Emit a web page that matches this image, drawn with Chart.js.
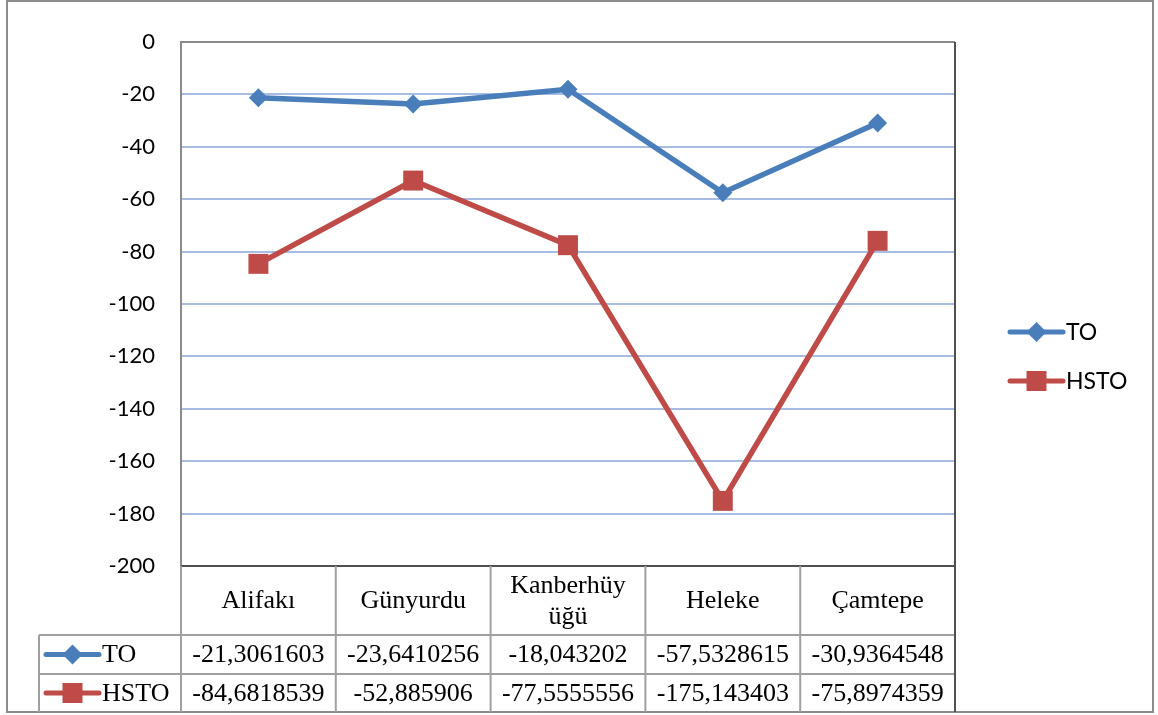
<!DOCTYPE html>
<html>
<head>
<meta charset="utf-8">
<script src="https://cdn.jsdelivr.net/npm/chart.js@4"></script>
<style>
  html, body { margin: 0; padding: 0; background: #fff; }
  canvas { display: block; }
</style>
</head>
<body>
<canvas id="chart" width="1158" height="715"></canvas>
<script>
const categories = [['Alifakı'], ['Günyurdu'], ['Kanberhüy', 'üğü'], ['Heleke'], ['Çamtepe']];
const seriesNames = ['TO', 'HSTO'];
const toValues = [-21.3061603, -23.6410256, -18.043202, -57.5328615, -30.9364548];
const hstoValues = [-84.6818539, -52.885906, -77.5555556, -175.143403, -75.8974359];
const yMin = -200;
const yMax = 0;
const yStep = 20;

const blue = '#4A7EBB';
const red = '#BE4B48';
const sansFont = 'Lato, "Open Sans", sans-serif';
const serifFont = '"Liberation Serif", "DejaVu Serif", serif';

function fmt(v) {
  return String(v).replace('.', ',');
}

// draws a little legend key: line with marker
function drawKey(ctx, x1, x2, y, color, style) {
  ctx.save();
  ctx.strokeStyle = color;
  ctx.lineWidth = 5;
  ctx.lineCap = 'round';
  ctx.beginPath();
  ctx.moveTo(x1, y);
  ctx.lineTo(x2, y);
  ctx.stroke();
  ctx.fillStyle = color;
  const cx = (x1 + x2) / 2;
  if (style === 'rectRot') {
    ctx.beginPath();
    ctx.moveTo(cx, y - 10);
    ctx.lineTo(cx + 10, y);
    ctx.lineTo(cx, y + 10);
    ctx.lineTo(cx - 10, y);
    ctx.closePath();
    ctx.fill();
  } else {
    ctx.fillRect(cx - 10, y - 10, 20, 20);
  }
  ctx.restore();
}

const frameAndTable = {
  id: 'frameAndTable',
  beforeDatasetsDraw(chart) {
    const ctx = chart.ctx;
    const a = chart.chartArea;
    ctx.save();
    ctx.lineWidth = 2;
    // plot area border
    ctx.strokeStyle = '#8a8a8a';
    ctx.beginPath();
    ctx.moveTo(a.left, a.bottom);
    ctx.lineTo(a.left, a.top);
    ctx.lineTo(a.right, a.top);
    ctx.stroke();
    ctx.strokeStyle = '#505050';
    ctx.beginPath();
    ctx.moveTo(a.right, a.top);
    ctx.lineTo(a.right, a.bottom);
    ctx.lineTo(a.left, a.bottom);
    ctx.stroke();
    ctx.restore();
  },
  afterDraw(chart) {
    const ctx = chart.ctx;
    const a = chart.chartArea;
    const xs = chart.scales.x;
    const n = categories.length;
    const colW = (a.right - a.left) / n;
    const headBottom = 635;
    const row1Bottom = 674;
    const tableBottom = 712;
    const keyLeft = 39;

    ctx.save();
    // outer frame
    ctx.strokeStyle = '#8c8c8c';
    ctx.lineWidth = 2;
    ctx.strokeRect(7, 1, 1146, 711);

    // table grid
    ctx.strokeStyle = '#a0a0a0';
    ctx.lineWidth = 2;
    ctx.beginPath();
    for (let i = 0; i < n; i++) {
      const x = a.left + i * colW;
      ctx.moveTo(x, a.bottom);
      ctx.lineTo(x, tableBottom);
    }
    ctx.moveTo(keyLeft, headBottom);
    ctx.lineTo(a.right, headBottom);
    ctx.moveTo(keyLeft, row1Bottom);
    ctx.lineTo(a.right, row1Bottom);
    ctx.moveTo(keyLeft, headBottom);
    ctx.lineTo(keyLeft, tableBottom);
    ctx.stroke();
    ctx.strokeStyle = '#505050';
    ctx.beginPath();
    ctx.moveTo(a.right, a.bottom);
    ctx.lineTo(a.right, tableBottom);
    ctx.stroke();

    // category header
    ctx.fillStyle = '#000';
    ctx.font = '26px ' + serifFont;
    ctx.textAlign = 'center';
    ctx.textBaseline = 'middle';
    const headMid = (a.bottom + headBottom) / 2 + 1;
    categories.forEach((lines, i) => {
      const x = xs.getPixelForValue(i);
      const lh = 31;
      const y0 = headMid - (lines.length - 1) * lh / 2;
      lines.forEach((t, j) => ctx.fillText(t, x, y0 + j * lh));
    });

    // value rows
    ctx.font = '26px ' + serifFont;
    const rows = [toValues, hstoValues];
    const rowMids = [(headBottom + row1Bottom) / 2 + 1, (row1Bottom + tableBottom) / 2 + 1];
    rows.forEach((vals, r) => {
      vals.forEach((v, i) => {
        ctx.fillText(fmt(v), xs.getPixelForValue(i), rowMids[r]);
      });
    });

    // row keys in the table
    const styles = ['rectRot', 'rect'];
    const colors = [blue, red];
    ctx.textAlign = 'left';
    seriesNames.forEach((name, r) => {
      drawKey(ctx, 46, 99, rowMids[r] - 1, colors[r], styles[r]);
      ctx.fillStyle = '#000';
      ctx.font = '26px ' + serifFont;
      ctx.fillText(name, 102, rowMids[r]);
    });

    // legend on the right
    const legendY = [332, 381];
    seriesNames.forEach((name, r) => {
      drawKey(ctx, 1010, 1063, legendY[r], colors[r], styles[r]);
      ctx.fillStyle = '#000';
      ctx.font = '23px ' + sansFont;
      ctx.fillText(name, 1066, legendY[r] + 1);
    });
    ctx.restore();
  }
};

new Chart(document.getElementById('chart'), {
  type: 'line',
  data: {
    labels: categories.map(c => c.join(' ')),
    datasets: [
      {
        label: seriesNames[0],
        data: toValues,
        borderColor: blue,
        backgroundColor: blue,
        borderWidth: 5.5,
        pointStyle: 'rectRot',
        pointRadius: 9.5,
        pointBorderWidth: 0,
        tension: 0
      },
      {
        label: seriesNames[1],
        data: hstoValues,
        borderColor: red,
        backgroundColor: red,
        borderWidth: 5.5,
        pointStyle: 'rect',
        pointRadius: 14.1,
        pointBorderWidth: 0,
        tension: 0
      }
    ]
  },
  options: {
    responsive: false,
    animation: false,
    events: [],
    layout: { padding: { left: 0, right: 203, top: 42, bottom: 149 } },
    plugins: {
      legend: { display: false },
      tooltip: { enabled: false }
    },
    scales: {
      x: {
        display: false,
        offset: true
      },
      y: {
        min: yMin,
        max: yMax,
        border: { display: false },
        grid: {
          drawTicks: false,
          lineWidth: 2,
          color: (c) => (c.tick && (c.tick.value === yMin || c.tick.value === yMax)) ? 'rgba(0,0,0,0)' : '#A7BDE3'
        },
        ticks: {
          stepSize: yStep,
          padding: 26,
          color: '#000',
          font: { family: sansFont, size: 22 }
        },
        afterFit(scale) { scale.width = 181; }
      }
    }
  },
  plugins: [frameAndTable]
});
</script>
</body>
</html>
